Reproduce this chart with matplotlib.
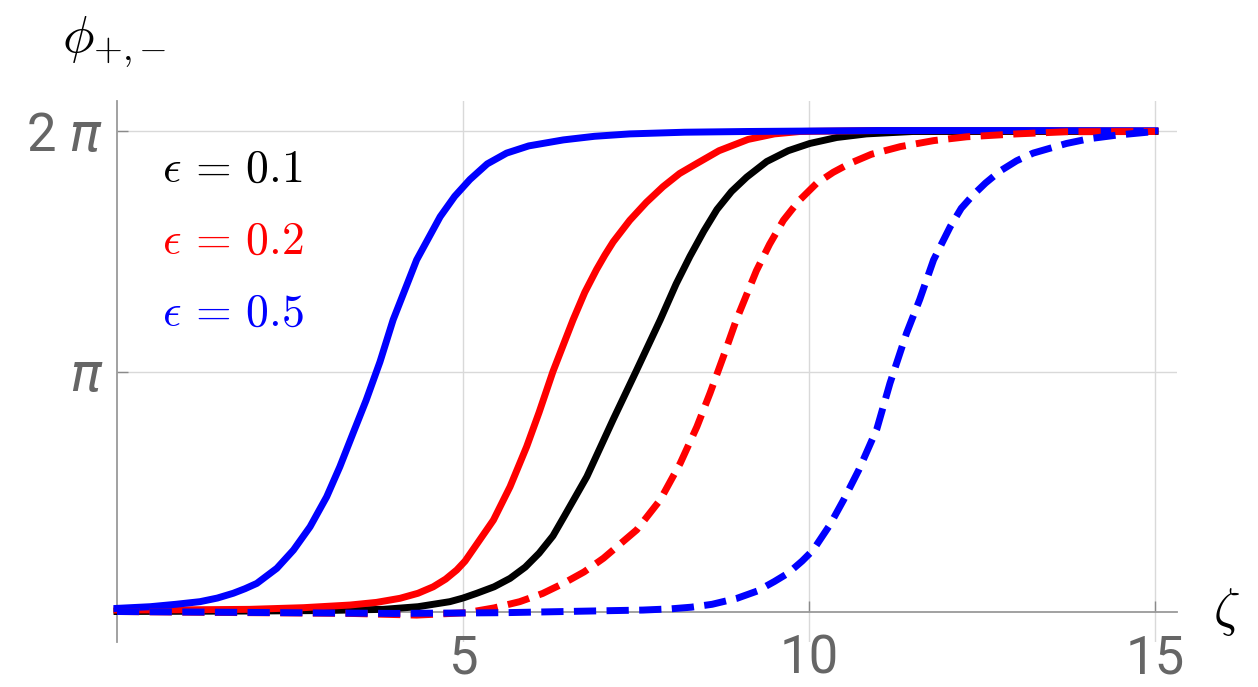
import numpy as np
import matplotlib
matplotlib.use("Agg")
import matplotlib.pyplot as plt

# ---------------------------------------------------------------------------
# Phase profiles phi_{+,-}(zeta), values in units of pi
# ---------------------------------------------------------------------------
x_blue = [0, 0.48, 0.85, 1.2, 1.45, 1.68, 1.85, 2.02, 2.31, 2.55, 2.79, 3.03,
          3.22, 3.41, 3.6, 3.8, 3.99, 4.33, 4.67, 4.88, 5.1, 5.35, 5.63, 5.95,
          6.45, 6.9, 7.41, 8.2, 9.1, 11, 13, 15]
y_blue = [0.013, 0.020, 0.03, 0.041, 0.056, 0.076, 0.095, 0.117, 0.18, 0.256,
          0.353, 0.478, 0.603, 0.742, 0.88, 1.04, 1.215, 1.465, 1.645, 1.73,
          1.80, 1.865, 1.91, 1.94, 1.965, 1.98, 1.99, 1.997, 2.0, 2.004,
          2.004, 2.003]

x_red = [0, 1.0, 1.92, 2.7, 3.37, 3.75, 4.09, 4.35, 4.57, 4.75, 4.91, 5.03,
         5.15, 5.44, 5.68, 5.92, 6.1, 6.3, 6.59, 6.76, 6.93, 7.05, 7.17, 7.41,
         7.65, 7.89, 8.13, 8.38, 8.7, 9.12, 9.5, 9.87, 11, 13, 15]
y_red = [0.006, 0.007, 0.009, 0.016, 0.027, 0.038, 0.055, 0.076, 0.103, 0.135,
         0.173, 0.21, 0.26, 0.381, 0.52, 0.687, 0.83, 1.0, 1.215, 1.33, 1.425,
         1.485, 1.54, 1.63, 1.705, 1.77, 1.825, 1.867, 1.92, 1.967, 1.99, 2.0,
         2.004, 2.003, 2.002]

x_black = [0, 2.0, 3.0, 3.85, 4.35, 4.81, 5.0, 5.2, 5.45, 5.68, 5.9, 6.1, 6.3,
           6.47, 6.79, 7.17, 7.5, 7.85, 8.08, 8.28, 8.48, 8.67, 8.88, 9.1,
           9.39, 9.7, 10.01, 10.4, 10.83, 11.5, 13, 15]
y_black = [0.0, 0.002, 0.004, 0.009, 0.02, 0.041, 0.056, 0.076, 0.103, 0.138,
           0.185, 0.243, 0.315, 0.40, 0.562, 0.80, 1.0, 1.215, 1.365, 1.48,
           1.585, 1.675, 1.75, 1.81, 1.875, 1.92, 1.95, 1.975, 1.99, 2.0, 2.0,
           2.0]

x_red_d = [0, 1.5, 2.5, 3.37, 4.33, 5.05, 5.45, 5.82, 6.15, 6.45, 6.75, 7.03,
           7.51, 7.85, 8.14, 8.38, 8.57, 8.76, 8.95, 9.24, 9.43, 9.63, 9.85,
           10.11, 10.35, 10.59, 10.9, 11.32, 11.8, 12.28, 13.0, 13.72, 15]
y_red_d = [0.0, -0.004, -0.006, -0.008, -0.015, -0.005, 0.015, 0.041, 0.075,
           0.117, 0.165, 0.222, 0.34, 0.465, 0.618, 0.77, 0.91, 1.06, 1.215,
           1.42, 1.53, 1.63, 1.71, 1.784, 1.83, 1.867, 1.905, 1.937, 1.962,
           1.978, 1.99, 1.999, 2.0]

x_blue_d = [0, 2, 4, 5.58, 7.03, 7.6, 8.0, 8.3, 8.6, 8.96, 9.25, 9.5, 9.7,
            9.9, 10.06, 10.3, 10.5, 10.72, 10.98, 11.17, 11.41, 11.6, 11.8,
            12.04, 12.2, 12.37, 12.55, 12.76, 13.0, 13.24, 13.72, 14.05, 14.45,
            15]
y_blue_d = [0.0, -0.004, -0.008, -0.005, 0.003, 0.006, 0.011, 0.018, 0.03,
            0.055, 0.085, 0.125, 0.16, 0.21, 0.256, 0.36, 0.465, 0.59, 0.76,
            0.951, 1.16, 1.30, 1.465, 1.603, 1.68, 1.735, 1.785, 1.835, 1.878,
            1.91, 1.95, 1.97, 1.985, 2.0]

eps_labels = [r"$\epsilon\,=\,0.1$", r"$\epsilon\,=\,0.2$", r"$\epsilon\,=\,0.5$"]
eps_colors = ["black", "red", "blue"]

x_ticks = [5, 10, 15]
y_ticks = [1, 2]
y_tick_labels = [r"$\pi$", r"2 $\pi$"]

# ---------------------------------------------------------------------------
# Figure
# ---------------------------------------------------------------------------
plt.rcParams["mathtext.fontset"] = "cm"

W, H = 1258, 687
fig = plt.figure(figsize=(W / 100, H / 100), dpi=100)
# axes box in pixels: left 117, right 1177, top 101, bottom 642
ax = fig.add_axes([117 / W, (H - 642) / H, (1177 - 117) / W, (642 - 101) / H])
ax.set_xlim(0, (1177 - 117) / 69.2)
ax.set_ylim(-(642 - 611.5) / 240, (611.5 - 101) / 240)

grid_c = "#d9d9d9"
axis_c = "#9a9a9a"
for gx in x_ticks:
    ax.axvline(gx, color=grid_c, lw=1.0, zorder=0)
for gy in y_ticks:
    ax.axhline(gy, color=grid_c, lw=1.0, zorder=0)

for s in ("top", "right"):
    ax.spines[s].set_visible(False)
ax.spines["bottom"].set_position(("data", 0))
ax.spines["left"].set_position(("data", 0))
for s in ("bottom", "left"):
    ax.spines[s].set_color(axis_c)
    ax.spines[s].set_linewidth(1.3)

ax.set_xticks(x_ticks)
ax.set_yticks(y_ticks)
ax.set_yticklabels(y_tick_labels)
ax.tick_params(axis="both", direction="in", length=8, width=1.0, color="#8a8a8a",
               labelcolor="#666666", labelsize=38)
ax.tick_params(axis="x", pad=16)
ax.tick_params(axis="y", pad=10)
for lab in ax.get_xticklabels() + ax.get_yticklabels():
    lab.set_fontfamily("Roboto")
    lab.set_math_fontfamily("dejavusans")

lw = 5.0
dash = (0, (3.2, 1.5))
line_kw = dict(lw=lw, clip_on=False, solid_joinstyle="round")
ax.plot(x_black, y_black, color="black", zorder=3, **line_kw)
ax.plot(x_red, y_red, color="red", zorder=3, **line_kw)
ax.plot(x_blue, y_blue, color="blue", zorder=3, **line_kw)
ax.plot(x_red_d, y_red_d, color="red", ls=dash, zorder=4, **line_kw)
ax.plot(x_blue_d, y_blue_d, color="blue", ls=dash, zorder=4, **line_kw)

# epsilon labels
for i, (txt, c) in enumerate(zip(eps_labels, eps_colors)):
    fig.text(162 / W, 1 - (182 + 72 * i) / H, txt, color=c, fontsize=33,
             ha="left", va="baseline")

# axis labels
fig.text(62 / W, 1 - 52 / H, r"$\phi_{+{,}-}$", fontsize=38, ha="left", va="baseline")
fig.text(1226 / W, 1 - 612 / H, r"$\zeta$", fontsize=38, ha="center", va="center")

fig.savefig("out.png", dpi=100)
